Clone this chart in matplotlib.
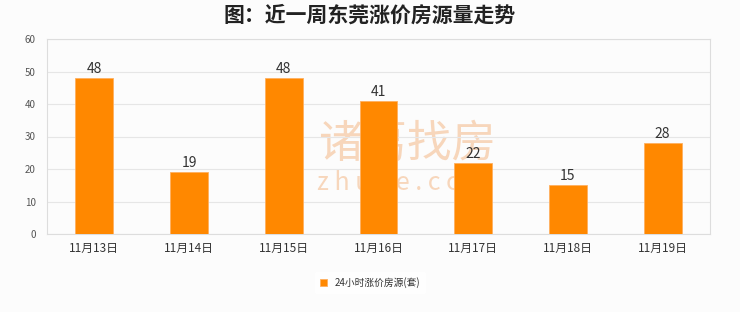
import matplotlib
matplotlib.use('Agg')
import matplotlib.pyplot as plt

plt.rcParams['font.family'] = ['Noto Sans CJK SC', 'DejaVu Sans']

# 近一周每日数据
dates = ['11月13日', '11月14日', '11月15日', '11月16日', '11月17日', '11月18日', '11月19日']
counts = [48, 19, 48, 41, 22, 15, 28]
y_ticks = [0, 10, 20, 30, 40, 50, 60]
series_name = '24小时涨价房源(套)'
title = '图：近一周东莞涨价房源量走势'

bg = '#fcfcfc'
bar_color = '#ff8800'
grid_color = '#e6e6e6'

fig = plt.figure(figsize=(7.4, 3.12), dpi=100, facecolor=bg)
ax = fig.add_axes([0.0635, 0.25, 0.896, 0.625], facecolor=bg)

x = list(range(len(dates)))
bars = ax.bar(x, counts, width=0.4, color=bar_color, edgecolor='#ffb060',
              linewidth=0.6, label=series_name, zorder=3)

for xi, v in zip(x, counts):
    ax.text(xi, v + 0.6, str(v), ha='center', va='bottom', fontsize=10,
            color='#333333', zorder=4)

ax.set_xlim(-0.5, len(dates) - 0.5)
ax.set_ylim(0, 60)
ax.set_yticks(y_ticks)
ax.set_yticklabels([str(t) for t in y_ticks], fontsize=7, color='#555555')
ax.set_xticks(x)
ax.set_xticklabels(dates, fontsize=8.5, color='#333333')
ax.tick_params(axis='both', length=0, pad=6)
ax.tick_params(axis='y', pad=8)
ax.yaxis.grid(True, color=grid_color, linewidth=0.8, zorder=0)
for s in ax.spines.values():
    s.set_color('#dddddd')
    s.set_linewidth(0.8)

# 水印，压在柱子下面
ax.text(0.55, 0.54, '诸葛找房', transform=fig.transFigure, fontsize=32,
        color='#f7d6bb', ha='center', va='center', zorder=1)
ax.text(0.545, 0.415, 'z h u g e . c o m', transform=fig.transFigure,
        fontsize=18, color='#f7d6bb', ha='center', va='center', zorder=1)

fig.text(0.5, 0.95, title, fontsize=15, fontweight='bold', color='#222222',
         ha='center', va='center')

leg = fig.legend(handles=[bars], labels=[series_name], loc='center',
                 bbox_to_anchor=(0.5, 0.095), fontsize=7, frameon=True,
                 handlelength=0.7, handleheight=0.7, handletextpad=0.8,
                 borderpad=0.5)
leg.get_frame().set_facecolor('white')
leg.get_frame().set_edgecolor('white')
for t in leg.get_texts():
    t.set_color('#333333')

fig.savefig('out.png', dpi=100, facecolor=bg)
